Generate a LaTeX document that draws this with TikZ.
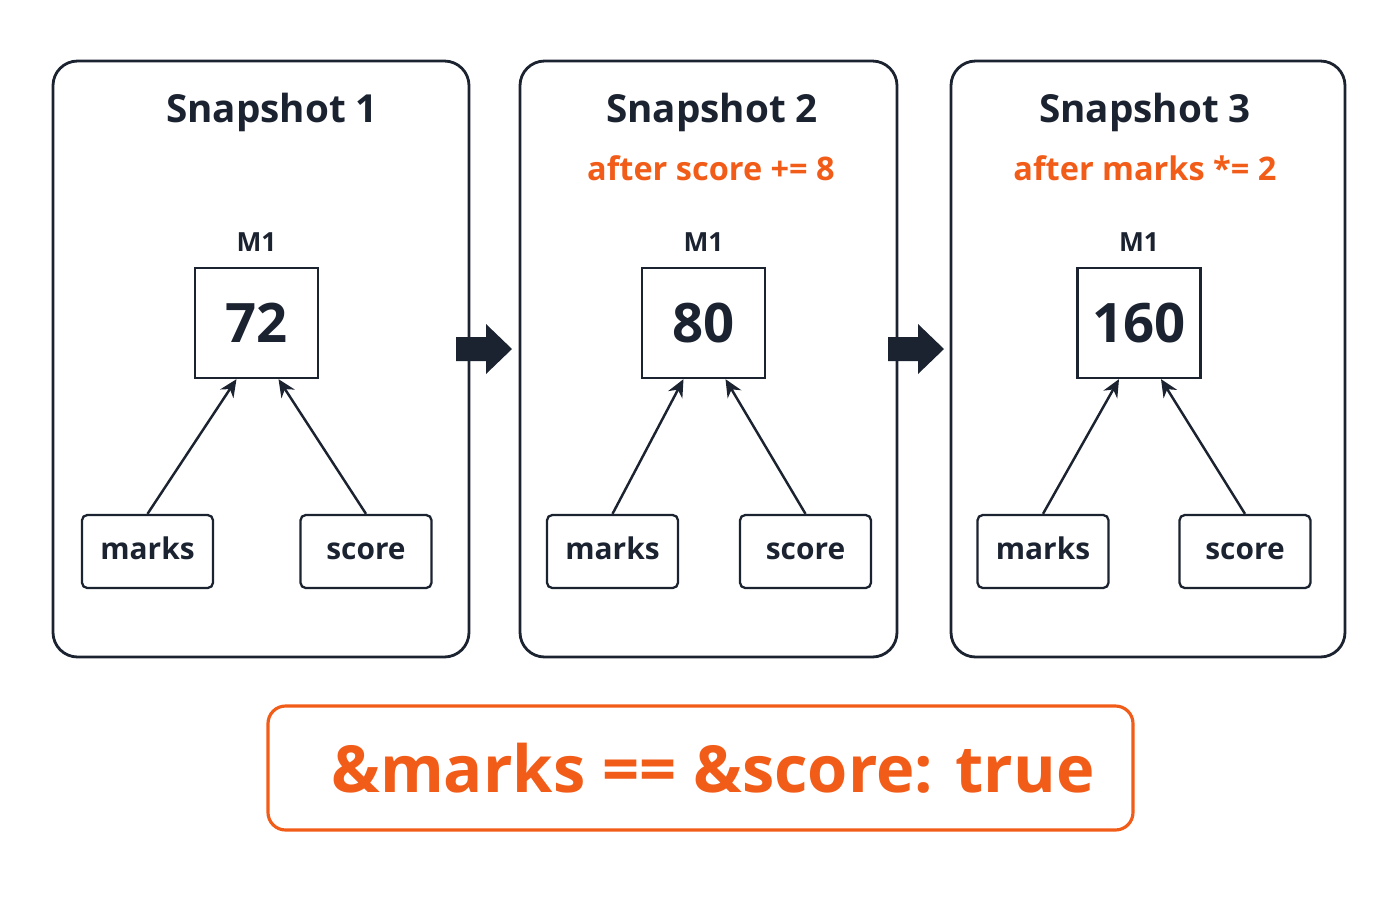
\documentclass[tikz,border=0pt]{standalone}
\usepackage{fontspec}
\setmainfont{Open Sans}
\usetikzlibrary{arrows.meta}
\definecolor{ink}{HTML}{1B2230}
\definecolor{org}{HTML}{F25C19}
\begin{document}
\begin{tikzpicture}[x=0.02cm,y=-0.02cm,
 panel/.style={draw=ink,line width=1.6pt,rounded corners=14pt},
 val/.style={draw=ink,line width=1.3pt,minimum width=123*0.02cm,minimum height=110*0.02cm,font=\fontsize{31}{33}\selectfont\bfseries,text=ink,inner sep=0},
 var/.style={draw=ink,line width=1.3pt,rounded corners=3pt,minimum width=131*0.02cm,minimum height=73*0.02cm,font=\fontsize{17}{19}\selectfont\bfseries,text=ink,inner sep=0,text height=12pt,text depth=3pt},
 ttl/.style={font=\fontsize{22}{25}\selectfont\bfseries,text=ink},
 sub/.style={font=\fontsize{18.5}{21}\selectfont\bfseries,text=org},
 lab/.style={font=\fontsize{15}{17}\selectfont\bfseries,text=ink},
 ptr/.style={draw=ink,line width=1.4pt,-{Stealth[length=10pt,width=9pt]}}]
\useasboundingbox (0,0) rectangle (1400,900);
\draw[panel] (53,61) rectangle (469,657);
\draw[panel] (520,61) rectangle (897,657);
\draw[panel] (951,61) rectangle (1345,657);
\node[ttl] (t1) at (272,112) {Snapshot 1};
\node[ttl] (t2) at (712,112) {Snapshot 2};
\node[ttl] (t3) at (1145,112) {Snapshot 3};
\node[sub] (s2) at (711,168) {after score += 8};
\node[sub] (s3) at (1145,168) {after marks *= 2};
\foreach \i/\cx/\v/\mx/\sx in {1/256.5/72/147.5/366, 2/703.5/80/612.5/805.5, 3/1139/160/1043/1245}{
 \node[lab] (m\i) at (\cx,242) {M1};
 \node[val] (v\i) at (\cx,323) {\v};
 \node[var] (a\i) at (\mx,551.5) {marks};
 \node[var] (b\i) at (\sx,551.5) {score};
 \draw[ptr] (a\i.north) -- ([xshift=-20*0.02cm]v\i.south);
 \draw[ptr] (b\i.north) -- ([xshift=22*0.02cm]v\i.south);
}
\foreach \x in {456,888}{
 \fill[ink] (\x,337) -- (\x+30,337) -- (\x+30,324) -- (\x+56,349) -- (\x+30,374) -- (\x+30,361) -- (\x,361) -- cycle;
}
\node[draw=org,line width=1.8pt,rounded corners=10pt,minimum width=865*0.02cm,minimum height=124*0.02cm,text=org,font=\fontsize{37}{40}\selectfont\bfseries] (res) at (700.5,768) {\hspace*{0.5cm}\&marks == \&score: true};
\end{tikzpicture}
\end{document}
